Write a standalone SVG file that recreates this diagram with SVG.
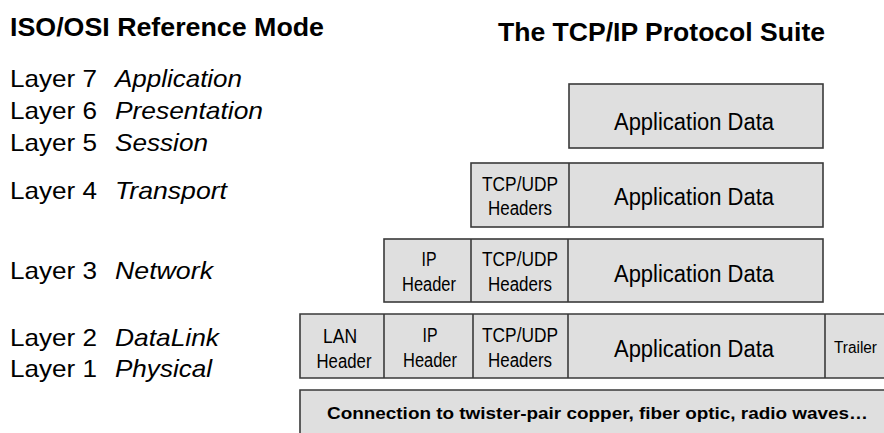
<svg xmlns="http://www.w3.org/2000/svg" width="884" height="433" viewBox="0 0 884 433">
<style>
.box{fill:#dfdfdf;stroke:#3a3a3a;stroke-width:1.6}
.fill{fill:#dfdfdf;stroke:none}
.edge{fill:none;stroke:#3a3a3a;stroke-width:1.6}
.div{stroke:#3a3a3a;stroke-width:1.6}
.t{font-family:"Liberation Sans",Arial,sans-serif;fill:#000}
.title{font-size:26px;font-weight:bold}
.lay{font-size:24px}
.it{font-style:italic}
.app{font-size:23px;text-anchor:middle}
.hd{font-size:20px;text-anchor:middle}
.bot{font-size:17px;font-weight:bold}
</style>
<rect width="884" height="433" fill="#ffffff"/>
<g id="titles">
<text class="t title" x="10" y="36" textLength="314" lengthAdjust="spacingAndGlyphs">ISO/OSI Reference Mode</text>
<text class="t title" x="498" y="41" textLength="327" lengthAdjust="spacingAndGlyphs">The TCP/IP Protocol Suite</text>
</g>
<g id="osi-layers">
<text class="t lay" x="10" y="87" textLength="87" lengthAdjust="spacingAndGlyphs">Layer 7</text>
<text class="t lay it" x="115" y="87" textLength="127" lengthAdjust="spacingAndGlyphs">Application</text>
<text class="t lay" x="10" y="119" textLength="87" lengthAdjust="spacingAndGlyphs">Layer 6</text>
<text class="t lay it" x="115" y="119" textLength="148" lengthAdjust="spacingAndGlyphs">Presentation</text>
<text class="t lay" x="10" y="151" textLength="87" lengthAdjust="spacingAndGlyphs">Layer 5</text>
<text class="t lay it" x="115" y="151" textLength="93" lengthAdjust="spacingAndGlyphs">Session</text>
<text class="t lay" x="10" y="199" textLength="87" lengthAdjust="spacingAndGlyphs">Layer 4</text>
<text class="t lay it" x="115" y="199" textLength="112" lengthAdjust="spacingAndGlyphs">Transport</text>
<text class="t lay" x="10" y="279" textLength="87" lengthAdjust="spacingAndGlyphs">Layer 3</text>
<text class="t lay it" x="115" y="279" textLength="98" lengthAdjust="spacingAndGlyphs">Network</text>
<text class="t lay" x="10" y="346" textLength="87" lengthAdjust="spacingAndGlyphs">Layer 2</text>
<text class="t lay it" x="115" y="346" textLength="104" lengthAdjust="spacingAndGlyphs">DataLink</text>
<text class="t lay" x="10" y="377" textLength="87" lengthAdjust="spacingAndGlyphs">Layer 1</text>
<text class="t lay it" x="115" y="377" textLength="97" lengthAdjust="spacingAndGlyphs">Physical</text>
</g>
<g id="row-application">
<rect class="box" x="569" y="84" width="254" height="64"/>
<text class="t app" x="694" y="130" textLength="160" lengthAdjust="spacingAndGlyphs">Application Data</text>
</g>
<g id="row-transport">
<rect class="box" x="471" y="163" width="352" height="64"/>
<line class="div" x1="569" y1="163" x2="569" y2="227"/>
<text class="t hd" x="520" y="191" textLength="76" lengthAdjust="spacingAndGlyphs">TCP/UDP</text>
<text class="t hd" x="520" y="215" textLength="64" lengthAdjust="spacingAndGlyphs">Headers</text>
<text class="t app" x="694" y="205" textLength="160" lengthAdjust="spacingAndGlyphs">Application Data</text>
</g>
<g id="row-network">
<rect class="box" x="384" y="239" width="439" height="63"/>
<line class="div" x1="471" y1="239" x2="471" y2="302"/>
<line class="div" x1="568" y1="239" x2="568" y2="302"/>
<text class="t hd" x="429" y="266" textLength="15" lengthAdjust="spacingAndGlyphs">IP</text>
<text class="t hd" x="429" y="291" textLength="54" lengthAdjust="spacingAndGlyphs">Header</text>
<text class="t hd" x="520" y="266" textLength="76" lengthAdjust="spacingAndGlyphs">TCP/UDP</text>
<text class="t hd" x="520" y="291" textLength="64" lengthAdjust="spacingAndGlyphs">Headers</text>
<text class="t app" x="694" y="282" textLength="160" lengthAdjust="spacingAndGlyphs">Application Data</text>
</g>
<g id="row-datalink">
<rect class="fill" x="300" y="314" width="584" height="64"/>
<path class="edge" d="M884 314 H300 V378 H884"/>
<line class="div" x1="384" y1="314" x2="384" y2="378"/>
<line class="div" x1="473" y1="314" x2="473" y2="378"/>
<line class="div" x1="568" y1="314" x2="568" y2="378"/>
<line class="div" x1="825" y1="314" x2="825" y2="378"/>
<text class="t hd" x="340" y="343" textLength="34" lengthAdjust="spacingAndGlyphs">LAN</text>
<text class="t hd" x="344" y="368" textLength="55" lengthAdjust="spacingAndGlyphs">Header</text>
<text class="t hd" x="430" y="342" textLength="15" lengthAdjust="spacingAndGlyphs">IP</text>
<text class="t hd" x="430" y="367" textLength="54" lengthAdjust="spacingAndGlyphs">Header</text>
<text class="t hd" x="520" y="342" textLength="76" lengthAdjust="spacingAndGlyphs">TCP/UDP</text>
<text class="t hd" x="520" y="367" textLength="64" lengthAdjust="spacingAndGlyphs">Headers</text>
<text class="t app" x="694" y="357" textLength="160" lengthAdjust="spacingAndGlyphs">Application Data</text>
<text class="t" x="834" y="353" style="font-size:16px" textLength="43" lengthAdjust="spacingAndGlyphs">Trailer</text>
</g>
<g id="row-physical">
<rect class="fill" x="300" y="390" width="584" height="43"/>
<path class="edge" d="M884 390 H300 V433"/>
<text class="t bot" x="327" y="419" textLength="541" lengthAdjust="spacingAndGlyphs">Connection to twister-pair copper, fiber optic, radio waves…</text>
</g>
</svg>
